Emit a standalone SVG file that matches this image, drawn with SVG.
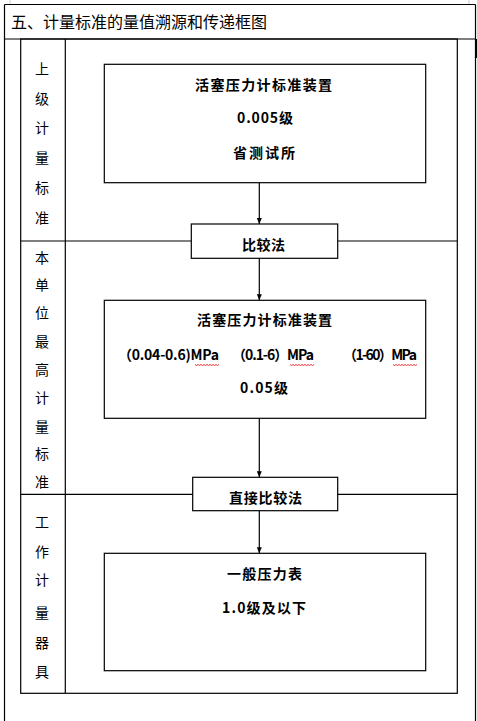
<svg xmlns="http://www.w3.org/2000/svg" width="477" height="721" viewBox="0 0 477 721">
<style>
.ln{stroke:#000;stroke-width:1.2;fill:none}
.bx{stroke:#000;stroke-width:1.2;fill:#fff}
.t{font-family:"Noto Sans CJK SC","Liberation Sans",sans-serif;font-size:14px;font-weight:700;fill:#000}
.lab{font-family:"Noto Sans CJK SC",sans-serif;font-size:14px;fill:#000;text-anchor:middle}
.ttl{font-family:"Noto Sans CJK SC",sans-serif;font-size:16px;fill:#000}
.sq{stroke:#e00;stroke-width:0.8;fill:none}
</style>
<defs>
<marker id="ah" markerUnits="userSpaceOnUse" markerWidth="6" markerHeight="7" refX="3" refY="6" orient="auto-start-reverse" viewBox="0 0 6 7">
<path d="M0.5,0 L5.5,0 L3,6 Z" fill="#000" transform="rotate(-90 3 3)"/>
</marker>
<marker id="ad" markerUnits="userSpaceOnUse" markerWidth="6" markerHeight="7" refX="3" refY="6" orient="0" viewBox="0 0 6 7">
<path d="M0.5,0 L5.5,0 L3,6 Z" fill="#000"/>
</marker>
</defs>
<rect width="477" height="721" fill="#fff"/>
<g id="frame">
<line x1="10" y1="0" x2="10" y2="4" stroke="#ccc" stroke-width="1"/>
<line x1="469" y1="0" x2="469" y2="4" stroke="#ccc" stroke-width="1"/>
<line class="ln" x1="4.5" y1="4.5" x2="475.5" y2="4.5"/>
<line class="ln" x1="4.5" y1="4.5" x2="4.5" y2="721"/>
<line class="ln" x1="475.5" y1="4.5" x2="475.5" y2="721"/>
<line class="ln" x1="4.5" y1="39" x2="475.5" y2="39"/>
<rect x="475" y="39" width="2" height="19" fill="#000"/>
<text class="ttl" x="11" y="28" textLength="256" lengthAdjust="spacing">五、计量标准的量值溯源和传递框图</text>
<rect class="ln" x="20.7" y="39" width="436.6" height="654.3"/>
<line class="ln" x1="65.3" y1="39" x2="65.3" y2="693.3"/>
<line class="ln" x1="20.7" y1="241" x2="457.3" y2="241"/>
<line class="ln" x1="20.7" y1="494.3" x2="457.3" y2="494.3"/>
</g>
<g id="lane1">
<text class="lab" x="42" y="74">上</text>
<text class="lab" x="42" y="104">级</text>
<text class="lab" x="42" y="133">计</text>
<text class="lab" x="42" y="163">量</text>
<text class="lab" x="42" y="193">标</text>
<text class="lab" x="42" y="223">准</text>
</g>
<g id="lane2">
<text class="lab" x="42" y="263">本</text>
<text class="lab" x="42" y="290">单</text>
<text class="lab" x="42" y="318">位</text>
<text class="lab" x="42" y="347">最</text>
<text class="lab" x="42" y="375">高</text>
<text class="lab" x="42" y="403">计</text>
<text class="lab" x="42" y="432">量</text>
<text class="lab" x="42" y="459">标</text>
<text class="lab" x="42" y="487">准</text>
</g>
<g id="lane3">
<text class="lab" x="42" y="527">工</text>
<text class="lab" x="42" y="557">作</text>
<text class="lab" x="42" y="585">计</text>
<text class="lab" x="42" y="618">量</text>
<text class="lab" x="42" y="648">器</text>
<text class="lab" x="42" y="677">具</text>
</g>
<g id="connectors">
<line class="ln" x1="259.3" y1="183" x2="259.3" y2="224" marker-end="url(#ad)"/>
<line class="ln" x1="259.3" y1="258.3" x2="259.3" y2="300.3" marker-end="url(#ad)"/>
<line class="ln" x1="259.3" y1="418.3" x2="259.3" y2="477.3" marker-end="url(#ad)"/>
<line class="ln" x1="259.3" y1="510.7" x2="259.3" y2="553.3" marker-end="url(#ad)"/>
</g>
<g id="node-upper">
<rect class="bx" x="104.3" y="64.3" width="321.4" height="118.4"/>
<text class="t" x="195" y="90" textLength="137" lengthAdjust="spacing">活塞压力计标准装置</text>
<text class="t" x="237" y="123" textLength="56" lengthAdjust="spacing">0.005级</text>
<text class="t" x="233" y="158" textLength="62" lengthAdjust="spacing">省测试所</text>
</g>
<g id="node-compare">
<rect class="bx" x="191.3" y="224" width="146.4" height="34.3"/>
<text class="t" x="242" y="250" textLength="43" lengthAdjust="spacing">比较法</text>
</g>
<g id="node-unit">
<rect class="bx" x="104.3" y="300.3" width="321.4" height="118"/>
<text class="t" x="197" y="325" textLength="135" lengthAdjust="spacing">活塞压力计标准装置</text>
<text class="t" x="118" y="360" textLength="101" lengthAdjust="spacing">（0.04-0.6)MPa</text>
<text class="t" x="232" y="360" textLength="82" lengthAdjust="spacing">（0.1-6）MPa</text>
<text class="t" x="343" y="360" textLength="74" lengthAdjust="spacing">（1-60）MPa</text>
<path class="sq" d="M195,364.5 l1.5,1 l1.5,-1 l1.5,1 l1.5,-1 l1.5,1 l1.5,-1 l1.5,1 l1.5,-1 l1.5,1 l1.5,-1 l1.5,1 l1.5,-1 l1.5,1 l1.5,-1 l1.5,1 l1.5,-1"/>
<path class="sq" d="M290,364.5 l1.5,1 l1.5,-1 l1.5,1 l1.5,-1 l1.5,1 l1.5,-1 l1.5,1 l1.5,-1 l1.5,1 l1.5,-1 l1.5,1 l1.5,-1 l1.5,1 l1.5,-1 l1.5,1 l1.5,-1"/>
<path class="sq" d="M393,364.5 l1.5,1 l1.5,-1 l1.5,1 l1.5,-1 l1.5,1 l1.5,-1 l1.5,1 l1.5,-1 l1.5,1 l1.5,-1 l1.5,1 l1.5,-1 l1.5,1 l1.5,-1 l1.5,1 l1.5,-1"/>
<text class="t" x="240" y="393" textLength="48" lengthAdjust="spacing">0.05级</text>
</g>
<g id="node-direct">
<rect class="bx" x="192.7" y="477.3" width="145" height="33.4"/>
<text class="t" x="229" y="503" textLength="73" lengthAdjust="spacing">直接比较法</text>
</g>
<g id="node-working">
<rect class="bx" x="104.3" y="553.3" width="321.4" height="117.4"/>
<text class="t" x="227" y="579" textLength="75" lengthAdjust="spacing">一般压力表</text>
<text class="t" x="222" y="613" textLength="84" lengthAdjust="spacing">1.0级及以下</text>
</g>
</svg>
